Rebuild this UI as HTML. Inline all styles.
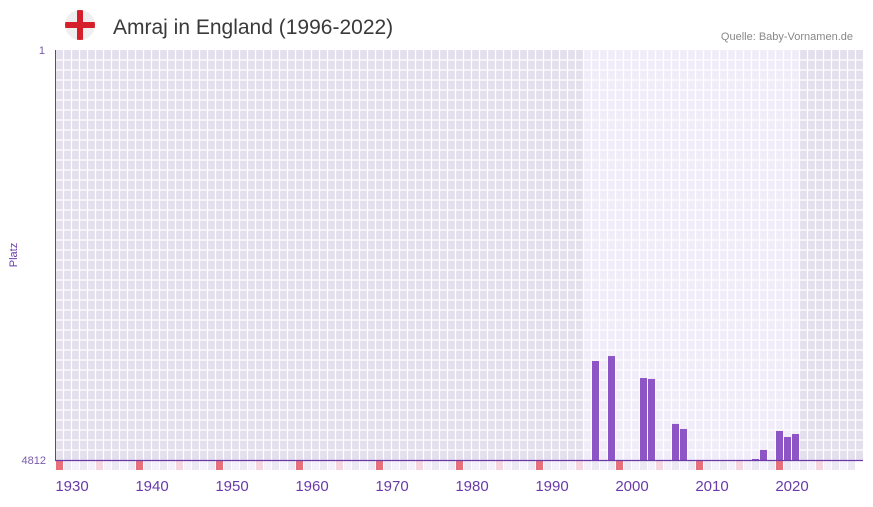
<!DOCTYPE html>
<html><head><meta charset="utf-8"><style>
body{margin:0;background:#fff;font-family:"Liberation Sans",sans-serif;}
</style></head><body>
<svg width="873" height="502" xmlns="http://www.w3.org/2000/svg">
<defs><clipPath id="fc"><circle cx="80" cy="25" r="15"/></clipPath></defs>
<g>
<circle cx="80" cy="25" r="15" fill="#efefef"/>
<g clip-path="url(#fc)">
<rect x="65" y="22" width="30" height="6" fill="#d5202c"/>
<rect x="77" y="10" width="6" height="30" fill="#d5202c"/>
</g>
</g>
<text x="113" y="34" font-size="21" fill="#3a3a3a">Amraj in England (1996-2022)</text>
<text x="853" y="40" font-size="11" fill="#888" text-anchor="end">Quelle: Baby-Vornamen.de</text>
<g id="bg"></g>
<g id="grid"></g>
<g id="strip"></g>
<g id="bars"></g>
<line x1="55.5" y1="50" x2="55.5" y2="461" stroke="#6a3aa8" stroke-width="1"/>
<line x1="55" y1="460.5" x2="863" y2="460.5" stroke="#6a3aa8" stroke-width="1.2"/>
<text x="45" y="54" font-size="11" fill="#7a5aa8" text-anchor="end">1</text>
<text x="46" y="464" font-size="11" fill="#7a5aa8" text-anchor="end">4812</text>
<text transform="translate(17,255) rotate(-90)" font-size="11" fill="#6a3aa8" text-anchor="middle">Platz</text>
<g id="xlabels"></g>
</svg>
<script>
const years=[1996,1998,2002,2003,2006,2007,2016,2017,2019,2020,2021];
const ranks=[3650,3592,3850,3861,4389,4448,4800,4694,4471,4542,4507];
const tickYears=[1930,1940,1950,1960,1970,1980,1990,2000,2010,2020];
const yMin=1,yMax=4812;
const NS="http://www.w3.org/2000/svg";
const L=55,R=863,T=50,B=460;
function x(yr){return 592+(yr-1996)*8;}
function y(r){return T+(r-yMin)/(yMax-yMin)*(B-T);}
function mk(tag,attrs,parent){const e=document.createElementNS(NS,tag);for(const k in attrs)e.setAttribute(k,attrs[k]);document.getElementById(parent).appendChild(e);return e;}
let e;
e=mk('rect',{x:L,y:T,width:R-L,height:B-T,fill:'#e3dfec'},'bg');


e=mk('rect',{x:x(1995),y:T,width:x(2022)-x(1995),height:B-T,fill:'#f0edf9'},'bg');


for(let yr=1929;yr<=2029;yr++){const gx=x(yr)-0.5;if(gx>L&&gx<R){e=mk('line',{x1:gx,y1:T,x2:gx,y2:B,stroke:'#fff','stroke-width':1.2},'grid');}}
for(let gy=T+10;gy<B;gy+=10){mk('line',{x1:L,y1:gy,x2:R,y2:gy,stroke:'#fff','stroke-width':1.2},'grid');}
for(let yr=1929;yr<=2028;yr++){const m=(yr-1929)%10;const c=m===0?'#e8707a':(m===5?'#f5d5de':(yr%2?'#f3f0f9':'#ebe7f3'));
e=mk('rect',{x:x(yr),y:461,width:7,height:9,fill:c},'strip');

}
years.forEach((yr,i)=>{const t=y(ranks[i]);
e=mk('rect',{x:x(yr),y:t,width:7,height:B-t,fill:'#8e55c6'},'bars');

});
tickYears.forEach(yr=>{e=mk('text',{x:x(yr)+8,y:491,'font-size':15,fill:'#6a3aa8','text-anchor':'middle'},'xlabels');e.textContent=yr;

});
</script>
</body></html>
